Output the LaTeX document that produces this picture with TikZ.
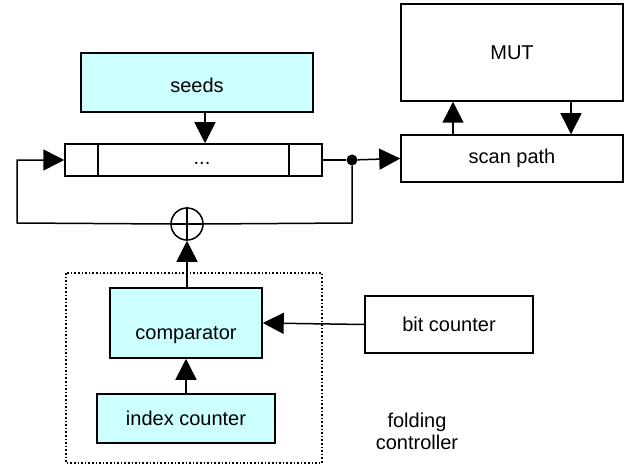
\documentclass[tikz,border=0pt]{standalone}
\usepackage{fontspec}
\setmainfont{Liberation Sans}
\usetikzlibrary{arrows.meta}
\definecolor{boxcyan}{HTML}{CCFFFF}
\tikzset{
  x=1pt, y=-1pt,
  every node/.style={font=\fontsize{20}{24}\selectfont},
  blk/.style={draw, line width=1.5pt, inner sep=0pt},
  cyanblk/.style={blk, fill=boxcyan},
  wire/.style={line width=1.5pt},
  arr/.style={wire, -{Triangle[length=21pt, width=21pt]}},
  lbl/.style={inner sep=0pt, text height=0.72em, text depth=0.21em},
}
\begin{document}
\begin{tikzpicture}
\useasboundingbox (0,0) rectangle (628,465);

% controller outline
\draw[line width=1.6pt, dotted] (66,273) rectangle (322,463);

% boxes
\node[cyanblk, minimum width=232pt, minimum height=59pt] (seeds) at (197,82.5) {};
\node[lbl] (seedstxt) at (197,90) {seeds};
\node[blk, minimum width=222pt, minimum height=97pt] (mut) at (512,52.5) {MUT};
\node[blk, minimum width=222pt, minimum height=47pt] (scan) at (512,158.5) {scan path};
\node[blk, minimum width=257pt, minimum height=32pt] (reg) at (193.5,160) {};
\node[lbl] (dots) at (202,162) {...};
\node[cyanblk, minimum width=152pt, minimum height=70pt] (comp) at (186,323) {};
\node[lbl] (comptxt) at (186,337) {comparator};
\node[cyanblk, minimum width=178pt, minimum height=49pt] (idx) at (186,418.5) {index counter};
\node[blk, minimum width=168pt, minimum height=57pt] (bit) at (449,324.5) {bit counter};
\node[lbl, align=center, text height=, text depth=] (fold) at (417,431) {folding\\[-2pt]controller};

% register cell dividers
\draw[wire] (98,144) -- (98,176);
\draw[wire] (289,144) -- (289,176);

% xor gate
\node[draw, circle, line width=1.5pt, minimum size=32pt, inner sep=0pt] (xor) at (187,224) {};
\draw[wire] (xor.north) -- (xor.south) (xor.west) -- (xor.east);

% branch point
\node[circle, fill, minimum size=11pt, inner sep=0pt] (tap) at (352,160) {};
\coordinate (br) at (352,223);
\coordinate (bl) at (17,223);
\coordinate (tl) at (17,160);

% connectors
\draw[arr] (seeds.south -| 205,0) -- (reg.north -| 205,0);
\draw[wire] (reg.east) -- (tap);
\draw[arr] (tap) -- (scan.west);
\draw[arr] (scan.north -| 453,0) -- (mut.south -| 453,0);
\draw[arr] (mut.south -| 571,0) -- (scan.north -| 571,0);
\draw[wire] (tap) -- (br) -- (xor.east);
\draw[arr] (xor.west) -- (bl) -- (tl) -- (reg.west);
\draw[arr] (comp.north -| xor) -- (xor.south);
\draw[arr] (idx.north) -- (comp.south);
\draw[arr] (bit.west) -- (comp.east);
\end{tikzpicture}
\end{document}
